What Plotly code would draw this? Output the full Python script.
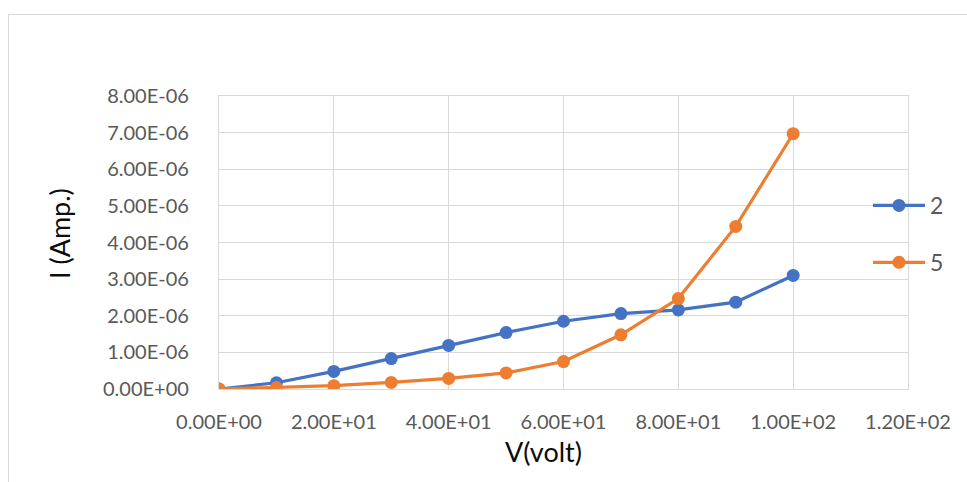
import plotly.graph_objects as go

# Measured I-V data for the two samples
voltage = [0, 10, 20, 30, 40, 50, 60, 70, 80, 90, 100]
current_2 = [0.0, 0.17e-6, 0.48e-6, 0.83e-6, 1.19e-6, 1.54e-6, 1.85e-6, 2.06e-6, 2.16e-6, 2.37e-6, 3.10e-6]
current_5 = [0.0, 0.04e-6, 0.09e-6, 0.18e-6, 0.29e-6, 0.44e-6, 0.75e-6, 1.48e-6, 2.47e-6, 4.44e-6, 6.97e-6]
series_names = ["2", "5"]
series_colors = ["#4472C4", "#ED7D31"]

x_ticks = [0, 20, 40, 60, 80, 100, 120]
y_ticks = [0, 1e-6, 2e-6, 3e-6, 4e-6, 5e-6, 6e-6, 7e-6, 8e-6]
x_title = "V(volt)"
y_title = "I (Amp.)"

# Page / plot-area geometry in pixels
W, H = 967, 482
PL, PR, PT, PB = 219, 908, 96, 389


def px_x(px):
    return (px - PL) / (PR - PL)


def px_y(py):
    return (PB - py) / (PB - PT)


GRID = "#d9d9d9"
FAMILY = "Lato, 'Open Sans', sans-serif"
TICK_FONT = dict(family=FAMILY, size=20, color="#595959")
TITLE_FONT = dict(family=FAMILY, size=27, color="#0d0d0d")

fig = go.Figure()
for name, ys, color in zip(series_names, [current_2, current_5], series_colors):
    fig.add_trace(go.Scatter(
        x=voltage, y=ys, name=name, legendgroup=name,
        mode="lines+markers",
        line=dict(color=color, width=3.2),
        marker=dict(color=color, size=13),
    ))

fig.update_layout(
    width=W, height=H,
    margin=dict(l=PL, r=W - PR, t=PT, b=H - PB),
    paper_bgcolor="white", plot_bgcolor="white",
    showlegend=True,
    legend=dict(
        x=px_x(868), y=px_y(234), xanchor="left", yanchor="middle",
        font=dict(family=FAMILY, size=23, color="#595959"),
        bgcolor="rgba(0,0,0,0)", tracegroupgap=24, traceorder="grouped",
        itemwidth=52,
    ),
    xaxis=dict(
        range=[0, 120], tickvals=x_ticks,
        ticktext=["{:.2E}".format(v) for v in x_ticks],
        showgrid=True, gridcolor=GRID, gridwidth=1.3,
        showline=True, linecolor=GRID, linewidth=1.3, mirror=True,
        zeroline=False, ticks="", tickfont=TICK_FONT, ticklabelstandoff=15,
    ),
    yaxis=dict(
        range=[0, 8e-6], tickvals=y_ticks,
        ticktext=["{:.2E}".format(v) for v in y_ticks],
        showgrid=True, gridcolor=GRID, gridwidth=1.3,
        showline=True, linecolor=GRID, linewidth=1.3, mirror=True,
        zeroline=False, ticks="", tickfont=TICK_FONT, ticklabelstandoff=25,
    ),
    annotations=[
        dict(text=x_title, x=px_x(543), y=px_y(451), xref="paper", yref="paper",
             showarrow=False, font=TITLE_FONT, xanchor="center", yanchor="middle"),
        dict(text=y_title, x=px_x(59), y=px_y(234), xref="paper", yref="paper",
             showarrow=False, font=TITLE_FONT, textangle=-90,
             xanchor="center", yanchor="middle"),
    ],
    shapes=[
        dict(type="rect", xref="paper", yref="paper",
             x0=px_x(8.5), x1=px_x(975), y0=px_y(14.5), y1=px_y(495),
             line=dict(color=GRID, width=1), fillcolor="rgba(0,0,0,0)", layer="below"),
    ],
)

fig.write_html("out.html")
